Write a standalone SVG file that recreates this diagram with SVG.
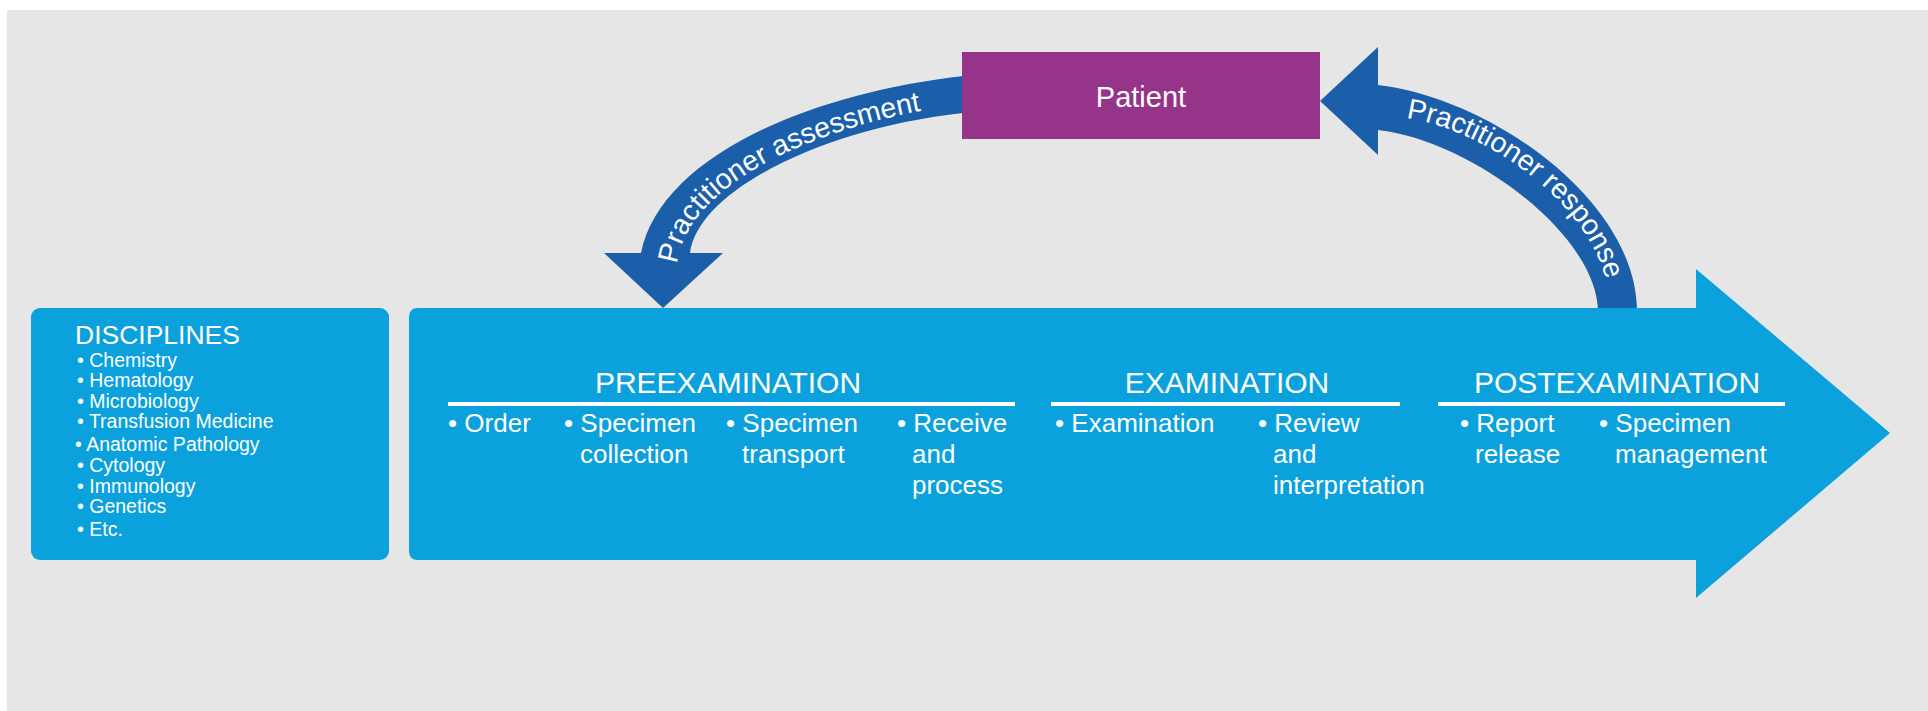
<svg xmlns="http://www.w3.org/2000/svg" width="1928" height="711" viewBox="0 0 1928 711">
<style>
text{font-family:"Liberation Sans",Arial,sans-serif;fill:#ffffff}
.h{font-size:30px;text-anchor:middle}
.i{font-size:26px}
.d{font-size:19.5px}
.arc{font-size:28.5px}
.band{fill:#1b5eaa}
.ul{stroke:#ffffff;stroke-width:4}
</style>
<defs>
<path id="pa" d="M 677 264 C 686 185, 815 124, 962 104"/>
<path id="pr" d="M 1406 118 C 1490 130, 1610 215, 1610 310"/>
</defs>
<rect width="1928" height="711" fill="#ffffff"/>
<rect x="7" y="10" width="1921" height="701" fill="#e6e6e6"/>
<g id="connectors">
<g id="arrow-assessment">
<path class="band" d="M 963 76 C 800 95, 660 160, 641 253 L 690 253 C 698 190, 825 128, 963 113 Z"/>
<polygon class="band" points="604,253 723,253 663,308"/>
<text class="arc"><textPath href="#pa">Practitioner assessment</textPath></text>
</g>
<g id="arrow-response">
<path class="band" d="M 1378 85 C 1490 98, 1637 200, 1637 312 L 1598 312 C 1598 235, 1470 140, 1378 130 Z"/>
<polygon class="band" points="1320,101 1378,47 1378,155"/>
<text class="arc"><textPath href="#pr">Practitioner response</textPath></text>
</g>
</g>
<g id="patient">
<rect x="962" y="52" width="358" height="87" fill="#96348a"/>
<text x="1141" y="107" font-size="29" text-anchor="middle">Patient</text>
</g>
<g id="disciplines">
<rect x="31" y="308" width="358" height="252" rx="9" fill="#0ba1dd"/>
<text x="75" y="344" font-size="26.5">DISCIPLINES</text>
<text class="d" x="77" y="367">• Chemistry</text>
<text class="d" x="77" y="387">• Hematology</text>
<text class="d" x="77" y="408">• Microbiology</text>
<text class="d" x="77" y="428">• Transfusion Medicine</text>
<text class="d" x="75" y="451">• Anatomic Pathology</text>
<text class="d" x="77" y="472">• Cytology</text>
<text class="d" x="77" y="493">• Immunology</text>
<text class="d" x="77" y="513">• Genetics</text>
<text class="d" x="77" y="536">• Etc.</text>
</g>
<g id="process">
<path d="M 418 308 L 1696 308 L 1696 269 L 1890 433 L 1696 598 L 1696 560 L 418 560 Q 409 560 409 551 L 409 317 Q 409 308 418 308 Z" fill="#0ba1dd"/>
<g id="preexamination">
<text class="h" x="728" y="393">PREEXAMINATION</text>
<line class="ul" x1="448" y1="404" x2="1015" y2="404"/>
<text class="i" x="448" y="432">• Order</text>
<text class="i" x="564" y="432">• Specimen<tspan x="580" y="463">collection</tspan></text>
<text class="i" x="726" y="432">• Specimen<tspan x="742" y="463">transport</tspan></text>
<text class="i" x="897" y="432">• Receive<tspan x="912" y="463">and</tspan><tspan x="912" y="494">process</tspan></text>
</g>
<g id="examination">
<text class="h" x="1227" y="393">EXAMINATION</text>
<line class="ul" x1="1051" y1="404" x2="1400" y2="404"/>
<text class="i" x="1055" y="432">• Examination</text>
<text class="i" x="1258" y="432">• Review<tspan x="1273" y="463">and</tspan><tspan x="1273" y="494">interpretation</tspan></text>
</g>
<g id="postexamination">
<text class="h" x="1617" y="393">POSTEXAMINATION</text>
<line class="ul" x1="1438" y1="404" x2="1785" y2="404"/>
<text class="i" x="1460" y="432">• Report<tspan x="1475" y="463">release</tspan></text>
<text class="i" x="1599" y="432">• Specimen<tspan x="1615" y="463">management</tspan></text>
</g>
</g>
</svg>
